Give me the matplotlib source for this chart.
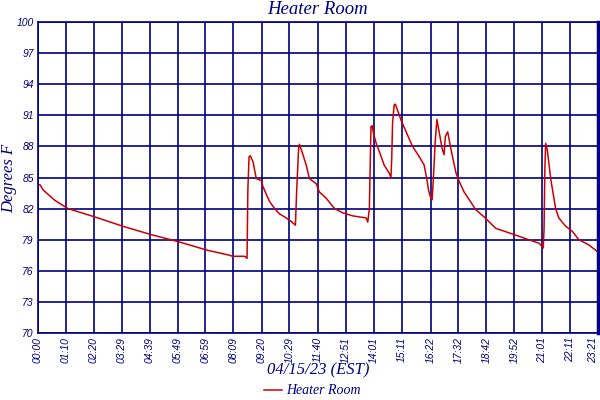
import matplotlib
matplotlib.use("Agg")
import matplotlib.pyplot as plt

# time in minutes after 00:00, temperature in degrees F
minutes = [0, 5, 13, 42, 75, 142, 212, 282, 352, 422, 479, 487, 517, 523, 525, 528, 531, 538, 546,
           559, 563, 579, 592, 604, 621, 634, 644, 647, 652, 654, 662, 671, 679, 696,
           704, 721, 742, 762, 787, 821, 825, 829, 833, 836, 839, 846, 854, 866, 879,
           883, 885, 887, 891, 894, 904, 908, 921, 937, 954, 966, 973, 977, 981, 986,
           989, 994, 998, 1004, 1011, 1016, 1019, 1025, 1031, 1037, 1046, 1054, 1066,
           1079, 1095, 1116, 1145, 1187, 1220, 1254, 1264, 1266, 1268, 1270, 1274, 1283,
           1295, 1303, 1320, 1337, 1353, 1378, 1398]
temps = [84.3, 84.3, 83.8, 82.8, 82.0, 81.2, 80.3, 79.5, 78.8, 78.0, 77.5, 77.4, 77.4, 77.2, 83.8, 87.0, 87.1,
         86.5, 84.9, 84.7, 84.1, 82.7, 82.0, 81.5, 81.1, 80.75, 80.4, 83.6, 87.8, 88.2,
         87.3, 86.2, 84.9, 84.4, 83.6, 83.0, 82.0, 81.6, 81.3, 81.1, 80.7, 82.0, 89.9,
         90.0, 89.3, 88.3, 87.5, 86.2, 85.4, 85.0, 86.9, 90.2, 92.0, 92.07, 91.0, 90.55,
         89.4, 88.0, 87.0, 86.2, 84.8, 83.8, 83.2, 82.85, 84.8, 88.6, 90.6, 89.3, 87.8,
         87.2, 88.97, 89.4, 88.15, 87.0, 85.4, 84.6, 83.6, 82.85, 81.9, 81.2, 80.1, 79.55,
         79.1, 78.65, 78.2, 80.0, 85.7, 88.3, 87.7, 84.8, 82.0, 81.1, 80.3, 79.8, 79.0,
         78.5, 77.9]

tick_labels = ["00:00", "01:10", "02:20", "03:29", "04:39", "05:49", "06:59", "08:09",
               "09:20", "10:29", "11:40", "12:51", "14:01", "15:11", "16:22", "17:32",
               "18:42", "19:52", "21:01", "22:11", "23:21"]
y_ticks = [70, 73, 76, 79, 82, 85, 88, 91, 94, 97, 100]

def to_min(s):
    h, m = s.split(":")
    return int(h) * 60 + int(m)

tick_pos = [to_min(s) for s in tick_labels]

navy = "#000080"
red = "#CC0000"

fig = plt.figure(figsize=(6, 4), dpi=100)
ax = fig.add_axes([38 / 600, 67 / 400, 560 / 600, 311 / 400])

ax.plot(minutes, temps, color=red, linewidth=1.1, label="Heater Room")

ax.set_xlim(0, tick_pos[-1])
ax.set_ylim(70, 100)
ax.set_yticks(y_ticks)
ax.set_xticks(tick_pos)
ax.set_xticklabels(tick_labels, rotation=90, fontsize=7.5, style="italic",
                   family="Liberation Sans", color=navy)
ax.get_xticklabels()[-1].set_horizontalalignment("right")
ax.set_yticklabels([str(v) for v in y_ticks], fontsize=7.5, style="italic",
                   family="Liberation Sans", color=navy)
ax.tick_params(length=0, pad=3)
ax.grid(True, color=navy, linewidth=1.2)
ax.set_axisbelow(True)
for side, sp in ax.spines.items():
    sp.set_color(navy)
    sp.set_linewidth(1.2)
ax.spines["right"].set_linewidth(2.5)

serif = ["Liberation Serif", "DejaVu Serif"]
fig.text(318 / 600, 1 - 9 / 400, "Heater Room", ha="center", va="center", fontsize=13.5,
         style="italic", family=serif, color=navy)
fig.text(9 / 600, 1 - 178 / 400, "Degrees F", ha="center", va="center", rotation=90,
         fontsize=12, style="italic", family=serif, color=navy)
fig.text(318 / 600, 1 - 370 / 400, "04/15/23 (EST)", ha="center", va="center", fontsize=12,
         style="italic", family=serif, color=navy)

leg = fig.legend(loc="center", bbox_to_anchor=(312 / 600, 1 - 391 / 400), frameon=False,
                 handlelength=1.3, handletextpad=0.3,
                 prop={"family": serif, "style": "italic", "size": 10})
for t in leg.get_texts():
    t.set_color(navy)

fig.savefig("out.png", dpi=100)
